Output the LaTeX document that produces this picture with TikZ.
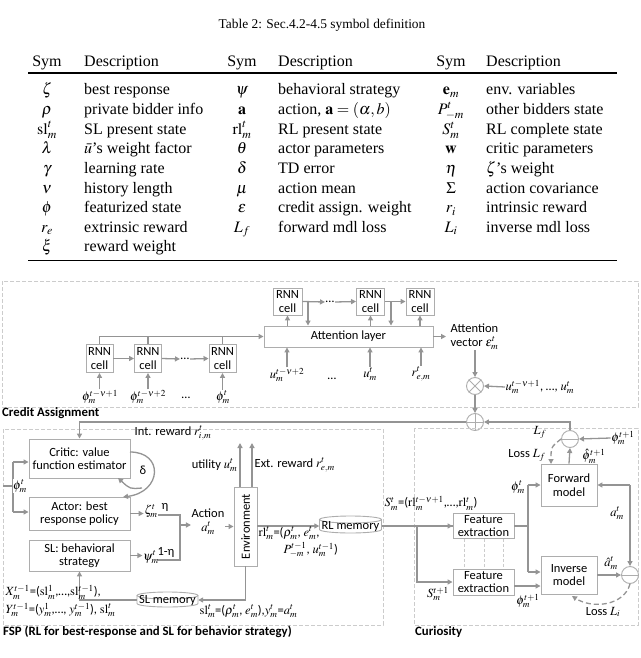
\documentclass[tikz,border=0pt]{standalone}
\usepackage{mathptmx}
\usepackage{fontspec}
\setmainfont{Liberation Serif}
\newfontfamily\calib{Carlito}
\usetikzlibrary{arrows.meta,calc}
\definecolor{lnc}{gray}{0.58}
\definecolor{bxc}{gray}{0.68}
\definecolor{grpc}{gray}{0.80}
\newcommand\tblrow[8]{%
 \node[tb,anchor=base] (sa#1) at (47,#2) {#3};
 \node[tb,anchor=base west] (da#1) at (84,#2) {#4};
 \node[tb,anchor=base] (sb#1) at (242,#2) {#5};
 \node[tb,anchor=base west] (db#1) at (278,#2) {#6};
 \node[tb,anchor=base] (sc#1) at (451,#2) {#7};
 \node[tb,anchor=base west] (dc#1) at (486,#2) {#8};}
\begin{document}
\begin{tikzpicture}[x=1pt,y=-1pt,
 tb/.style={font=\fontsize{16}{18}\selectfont, inner sep=0},
 lbl/.style={font=\calib\fontsize{12.5}{13.5}\selectfont, inner sep=0.5, align=center},
 box/.style={lbl, draw=bxc, line width=0.9, fill=white, inner sep=1},
 arr/.style={draw=lnc, line width=1.3, -{Triangle[length=5,width=5]}},
 lnn/.style={draw=lnc, line width=1.3},
 darr/.style={draw=lnc, line width=1.3, dash pattern=on 5pt off 3pt, -{Triangle[length=5,width=5]}},
 grp/.style={draw=grpc, line width=1, dash pattern=on 4pt off 2pt},
 vdsh/.style={draw=grpc, line width=0.9, dash pattern=on 3pt off 2pt},
 ttl/.style={font=\calib\bfseries\fontsize{12.8}{14}\selectfont, anchor=west, inner sep=0},
 ring/.style={circle, draw=bxc, line width=0.9, minimum size=17, inner sep=0, fill=white},
 cyl/.style={draw=bxc, line width=0.9, fill=white}]
\useasboundingbox (0,0) rectangle (640,658);

% ---------------- Table ----------------
\node[font=\fontsize{13.4}{15}\selectfont, inner sep=0] (cap) at (322,25) {Table 2: Sec.4.2-4.5 symbol definition};
\tblrow{0}{67}{Sym}{Description}{Sym}{Description}{Sym}{Description}
\draw[line width=1.2] (28,73) -- (617,73);
\tblrow{1}{95}{$\zeta$}{best response}{$\psi$}{behavioral strategy}{$\mathbf{e}_m$}{env. variables}
\tblrow{2}{114.6}{$\rho$}{private bidder info}{$\mathbf{a}$}{action, $\mathbf{a}=(\alpha,b)$}{$P^t_{-m}$}{other bidders state}
\tblrow{3}{134.2}{$\mathrm{sl}^t_m$}{SL present state}{$\mathrm{rl}^t_m$}{RL present state}{$S^t_m$}{RL complete state}
\tblrow{4}{153.8}{$\lambda$}{$\bar{u}$'s weight factor}{$\theta$}{actor parameters}{$\mathbf{w}$}{critic parameters}
\tblrow{5}{173.4}{$\gamma$}{learning rate}{$\delta$}{TD error}{$\eta$}{$\zeta$'s weight}
\tblrow{6}{193}{$\nu$}{history length}{$\mu$}{action mean}{$\Sigma$}{action covariance}
\tblrow{7}{212.6}{$\phi$}{featurized state}{$\epsilon$}{credit assign. weight}{$r_i$}{intrinsic reward}
\tblrow{8}{232.2}{$r_e$}{extrinsic reward}{$L_f$}{forward mdl loss}{$L_i$}{inverse mdl loss}
\node[tb,anchor=base] (sa9) at (47,251.8) {$\xi$};
\node[tb,anchor=base west] (da9) at (84,251.8) {reward weight};
\draw[line width=0.9] (28,260) -- (617,260);

% ---------------- Credit assignment ----------------
\draw[grp] (2,281) rectangle (638,407);
\node[ttl] (catl) at (2,413) {Credit Assignment};

\node[box,minimum width=27,minimum height=28] (r1) at (99.5,358.5) {RNN\\cell};
\node[box,minimum width=27,minimum height=28] (r2) at (148,358.5) {RNN\\cell};
\node[box,minimum width=27,minimum height=28] (r3) at (222.5,358.5) {RNN\\cell};
\node[lbl] (dA) at (185,359) {…};
\draw[arr] (r1) -- (r2);
\draw[arr] (r2.east) -- (dA.west);
\draw[arr] (dA.east) -- (r3.west);

\node[lbl] (p1) at (100,397) {$\phi_m^{t-\nu+1}$};
\node[lbl] (p2) at (148,397) {$\phi_m^{t-\nu+2}$};
\node[lbl] (pd) at (186,398) {…};
\node[lbl] (p3) at (223,397) {$\phi_m^{t}$};
\draw[arr] (p1.north -| r1.south) -- (r1.south);
\draw[arr] (p2.north -| r2.south) -- (r2.south);
\draw[arr] (p3.north -| r3.south) -- (r3.south);

\node[box,minimum width=169,minimum height=21] (att) at (348.5,336.5) {Attention layer};
\draw[arr] (r1.north) |- (att.west);
\draw[lnn] (r2.north) -- (r2.north |- att.west);
\draw[lnn] (r3.north) -- (r3.north |- att.west);

\node[box,minimum width=29,minimum height=27] (t1) at (287.5,301.5) {RNN\\cell};
\node[box,minimum width=28,minimum height=27] (t2) at (370.5,301.5) {RNN\\cell};
\node[box,minimum width=28,minimum height=27] (t3) at (420,301.5) {RNN\\cell};
\node[lbl] (dB) at (330,302) {…};
\draw[arr] (t1.south |- att.north) -- (t1.south);
\draw[arr] (t2.south |- att.north) -- (t2.south);
\draw[arr] (t3.south |- att.north) -- (t3.south);
\coordinate (k1) at (308,301.5);
\coordinate (k2) at (391,301.5);
\draw[arr] (t1.east) -- (dB.west);
\draw[arr] (dB.east) -- (t2.west);
\draw[arr] (t2.east) -- (t3.west);
\draw[arr] (k1) -- (k1 |- att.north);
\draw[arr] (k2) -- (k2 |- att.north);

\node[lbl] (u2) at (287,375) {$u_m^{t-\nu+2}$};
\node[lbl] (ud) at (332,379) {…};
\node[lbl] (u3) at (370,374) {$u_m^{t}$};
\node[lbl] (re) at (421,374) {$r_{e,m}^{t}$};
\draw[arr] (u2.north) -- (u2.north |- att.south);
\draw[arr] (u3.north) -- (u3.north |- att.south);
\draw[arr] (re.north) -- (re.north |- att.south);

\coordinate (ao) at (446,336.5);
\draw[arr] (att.east) -- (ao);
\node[lbl,align=left,anchor=west] (av) at (450,337) {Attention\\vector $\epsilon_m^t$};

\node[ring] (mul) at (475,386) {};
\draw[draw=bxc,line width=0.9] (mul.north west) -- (mul.south east) (mul.north east) -- (mul.south west);
\draw[arr] (av.south -| mul.north) -- (mul.north);
\node[lbl,anchor=west] (useq) at (505,387) {$u_m^{t-\nu+1}$, …, $u_m^{t}$};
\draw[arr] (useq.west) -- (mul.east);

\node[ring] (add) at (475,422) {};
\draw[draw=bxc,line width=0.9] (add.north) -- (add.south) (add.west) -- (add.east);
\draw[arr] (mul.south) -- (add.north);

% ---------------- FSP ----------------
\draw[grp] (3,429) rectangle (383,625);
\node[ttl] (fsptl) at (3,632) {FSP (RL for best-response and SL for behavior strategy)};

\node[box,minimum width=101,minimum height=39] (critic) at (79.5,458.5) {Critic: value\\function estimator};
\node[box,minimum width=101,minimum height=33] (actor) at (79.5,513.5) {Actor: best\\response policy};
\node[box,minimum width=101,minimum height=31] (SL) at (79.5,555.5) {SL: behavioral\\strategy};
\draw[arr] (add.west) -| (critic.north);
\node[lbl] (intr) at (173,433) {Int. reward $r_{i,m}^t$};

\coordinate (ptop) at (13,462);
\coordinate (pbot) at (13,512);
\coordinate (pin) at (3,486);
\draw[lnn] (ptop) -- (pbot);
\draw[lnn] (pin) -- (pin -| ptop);
\draw[arr] (ptop) -- (ptop -| critic.west);
\draw[arr] (pbot) -- (pbot -| actor.west);
\node[lbl,fill=white] (phiL) at (20,486) {$\phi_m^t$};

\coordinate (cr) at (130,452);
\coordinate (acin) at (123,497);
\coordinate (dl) at (142,488);
\coordinate (crin) at (118,478);
\draw[arr] (cr) .. controls (164,452) and (162,492) .. (acin);
\draw[arr] (dl) .. controls (130,489) .. (crin);
\node[lbl] (delta) at (143,470) {δ};

\node[lbl] (zeta) at (151,511) {$\zeta_m^t$};
\node[lbl] (psi) at (151,557) {$\psi_m^t$};
\draw[arr] (actor.east) -- (actor.east -| zeta.west);
\draw[arr] (SL.east) -- (SL.east -| psi.west);
\coordinate (zs) at (158,515);
\coordinate (ps) at (158,560);
\coordinate (mrg) at (180,525);
\draw[lnn] (zs) -| (mrg);
\draw[lnn] (ps) -| (mrg);
\node[lbl] (eta) at (165,507) {η};
\node[lbl] (eta2) at (166,552) {1-η};
\node[lbl] (act) at (208,522) {Action\\$a_m^t$};
\draw[arr] (mrg) -- (mrg -| act.west);

\node[box,minimum width=23,minimum height=79,inner sep=0] (env) at (245.5,526.5) {\rotatebox{90}{Environment}};
\draw[arr] (act.east |- env.west) -- (env.west);
\coordinate (eu) at (240,443);
\coordinate (ee) at (252,443);
\draw[arr] (env.north -| eu) -- (eu);
\draw[arr] (env.north -| ee) -- (ee);
\node[lbl,anchor=east] (util) at (238,465) {utility $u_m^t$};
\node[lbl,anchor=west] (extr) at (254,465) {Ext. reward $r_{e,m}^t$};

% RL memory cylinder
\draw[cyl] (319.5,519.5) -- (319.5,529.5) arc[start angle=180,end angle=0,x radius=31,y radius=3.5] -- (381.5,519.5);
\draw[cyl] (350.5,519.5) ellipse[x radius=31,y radius=3.5];
\node[lbl,minimum width=62,minimum height=14,inner sep=0] (rlm) at (350.5,526) {RL memory};
\draw[arr] (env.east |- rlm.west) -- (rlm.west);
\node[lbl,anchor=west] (rll1) at (258,533) {$\mathrm{rl}_m^t$=($\rho_m^t$, $e_m^t$,};
\node[lbl,anchor=west] (rll2) at (283,550) {$P_{-m}^{t-1}$, $u_m^{t-1}$)};

% SL memory cylinder
\draw[cyl] (137,595.5) -- (137,603.5) arc[start angle=180,end angle=0,x radius=30.5,y radius=3.5] -- (198,595.5);
\draw[cyl] (167.5,595.5) ellipse[x radius=30.5,y radius=3.5];
\node[lbl,minimum width=61,minimum height=12,inner sep=0] (slm) at (167.5,600) {SL memory};
\draw[arr] (env.south) |- (slm.east);
\draw[arr] (slm.west) -| (SL.south);
\node[lbl,anchor=west] (sllab) at (199,611) {$\mathrm{sl}_m^t$=($\rho_m^t$, $e_m^t$),$y_m^t$=$a_m^t$};
\node[lbl,anchor=west] (xlab) at (5,592) {$X_m^{t-1}$=($\mathrm{sl}_m^1$,…,$\mathrm{sl}_m^{t-1}$),};
\node[lbl,anchor=west] (ylab) at (5,610) {$Y_m^{t-1}$=($y_m^1$,…, $y_m^{t-1}$), $\mathrm{sl}_m^t$};

% ---------------- Curiosity ----------------
\draw[grp] (414,428) rectangle (638,625);
\node[ttl] (cutl) at (415,632) {Curiosity};

\node[box,minimum width=56,minimum height=42] (fwd) at (569,485) {Forward\\model};
\node[box,minimum width=56,minimum height=38] (inv) at (569,575) {Inverse\\model};
\node[box,minimum width=61,minimum height=25] (fe1) at (483.5,526) {Feature\\extraction};
\node[box,minimum width=61,minimum height=26] (fe2) at (483.5,582) {Feature\\extraction};
\foreach \xx in {464,484,503} \draw[vdsh] (fe1.south -| \xx,0) -- (fe2.north -| \xx,0);

\node[ring] (lf) at (570,439) {};
\draw[draw=bxc,line width=0.9] (lf.west) -- (lf.east);
\node[ring] (li) at (630,575) {};
\draw[draw=bxc,line width=0.9] (li.west) -- (li.east);

\draw[arr] (lf.north) |- (add.east);
\node[lbl] (lflab) at (540,432) {$L_f$};
\node[lbl] (pn) at (623,438) {$\phi_m^{t+1}$};
\draw[arr] (pn.west) -- (lf.east);
\draw[arr] (fwd.north) -- (lf.south);
\node[lbl] (phat) at (594,456) {$\hat{\phi}_m^{t+1}$};
\node[lbl] (lossf) at (527,455) {Loss $L_f$};
\coordinate (fwdin) at (551,464);
\draw[darr] (lf.west) .. controls (551,447) .. (fwdin);

\coordinate (aj) at (630,485);
\draw[arr] (aj) -- (fwd.east);
\draw[arr] (aj) -- (li.north);
\node[lbl] (alab) at (617,513) {$a_m^t$};

\draw[lnn] (rlm.east) -- (rlm.east -| fe1.west);
\coordinate (sj) at (417,526);
\draw[arr] (sj) -- (fe1.west);
\draw[arr] (sj) |- (fe2.west);
\node[lbl] (slab) at (431,503) {$S_m^t$=($\mathrm{rl}_m^{t-\nu+1}$,…,$\mathrm{rl}_m^t$)};
\node[lbl] (s1lab) at (438,594) {$S_m^{t+1}$};

\coordinate (fj) at (528,526);
\coordinate (fjt) at (528,485);
\coordinate (fjb) at (528,572);
\draw[lnn] (fe1.east) -- (fj);
\draw[lnn] (fjt) -- (fjb);
\draw[arr] (fjt) -- (fwd.west);
\draw[arr] (fjb) -- (fjb -| inv.west);
\node[lbl] (phit) at (518,487) {$\phi_m^t$};
\draw[arr] (fe2.east |- 0,586) -- (inv.west |- 0,586);
\node[lbl] (pnb) at (528,601) {$\phi_m^{t+1}$};
\draw[arr] (inv.east) -- (li.west);
\node[lbl] (ahat) at (611,563) {$\hat{a}_m^t$};
\coordinate (invin) at (572,596);
\draw[darr] (li.south) .. controls (624,606) and (592,609) .. (invin);
\node[lbl] (lossi) at (603,612) {Loss $L_i$};
\end{tikzpicture}
\end{document}
